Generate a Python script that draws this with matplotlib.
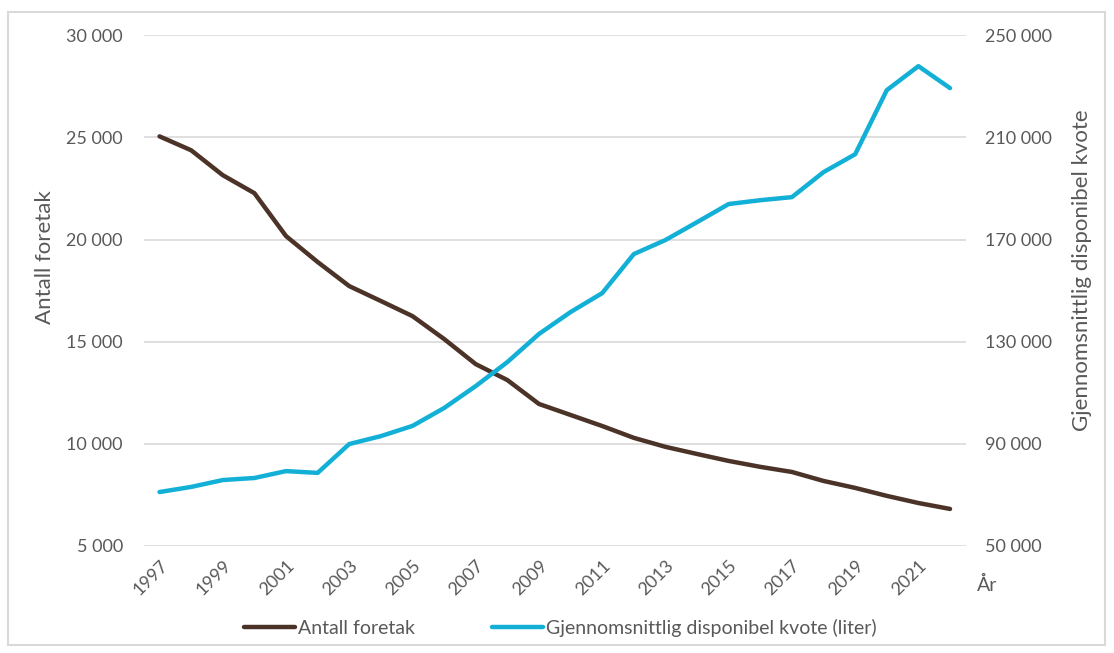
import matplotlib
matplotlib.use("Agg")
import matplotlib.pyplot as plt
from matplotlib.patches import Rectangle
from matplotlib.ticker import FuncFormatter

plt.rcParams['font.family'] = ['Lato', 'DejaVu Sans']

years = list(range(1997, 2023))
antall_foretak = [25050, 24370, 23150, 22270, 20170, 18900, 17720, 16990,
                  16250, 15130, 13900, 13120, 11950, 11410, 10870, 10290,
                  9850, 9500, 9160, 8870, 8620, 8180, 7840, 7450, 7100, 6810]
snitt_kvote = [71100, 73100, 75800, 76600, 79300, 78600, 89900, 93000,
               97000, 104000, 112600, 122000, 133000, 141600, 149000, 164300,
               169800, 176800, 183900, 185400, 186600, 196400, 203400, 228500,
               237900, 229300]

left_ticks = [5000, 10000, 15000, 20000, 25000, 30000]
right_ticks = [50000, 90000, 130000, 170000, 210000, 250000]

brown = '#4b3328'
blue = '#12b0d6'
grey_text = '#595959'


def space_thousands(v, pos):
    return f"{int(round(v)):,}".replace(",", " ")


fig = plt.figure(figsize=(11.14, 6.53), dpi=100)
ax = fig.add_axes([0.129, 0.164, 0.738, 0.782])
ax2 = ax.twinx()

x = list(range(len(years)))
l1, = ax.plot(x, antall_foretak, color=brown, lw=3.2, solid_capstyle='round',
              label='Antall foretak', zorder=3)
l2, = ax2.plot(x, snitt_kvote, color=blue, lw=3.2, solid_capstyle='round',
               label='Gjennomsnittlig disponibel kvote (liter)', zorder=3)

ax.set_xlim(-0.5, len(years) - 0.5)
ax.set_ylim(left_ticks[0], left_ticks[-1])
ax.set_yticks(left_ticks)
ax2.set_ylim(right_ticks[0], right_ticks[-1])
ax2.set_yticks(right_ticks)
ax.yaxis.set_major_formatter(FuncFormatter(space_thousands))
ax2.yaxis.set_major_formatter(FuncFormatter(space_thousands))

ax.set_xticks(x[::2])
ax.set_xticklabels([str(y) for y in years[::2]], rotation=45,
                   ha='right', va='top', rotation_mode='anchor')

ax.grid(axis='y', color='#d9d9d9', lw=1.2)
ax.set_axisbelow(True)
for a in (ax, ax2):
    for s in a.spines.values():
        s.set_visible(False)
    a.tick_params(length=0, colors=grey_text, labelsize=13)
ax.tick_params(axis='y', pad=15)
ax2.tick_params(axis='y', pad=14)
ax.tick_params(axis='x', pad=8)

fig.text(0.040, 0.606, 'Antall foretak', rotation=90, ha='center', va='center',
         fontsize=16, color=grey_text)
fig.text(0.971, 0.586, 'Gjennomsnittlig disponibel kvote', rotation=90,
         ha='center', va='center', fontsize=16, color=grey_text)
fig.text(0.886, 0.104, 'År', ha='center', va='center', fontsize=14,
         color=grey_text)

fig.legend(handles=[l1, l2], loc='center', bbox_to_anchor=(0.503, 0.038),
           ncol=2, frameon=False, fontsize=14, labelcolor=grey_text,
           handlelength=2.6, handletextpad=0.15, columnspacing=4.0)

fig.patches.append(Rectangle((0.007, 0.012), 0.985, 0.97,
                             transform=fig.transFigure, fill=False,
                             edgecolor='#d9d9d9', lw=1.5))

fig.savefig('out.png', dpi=100)
